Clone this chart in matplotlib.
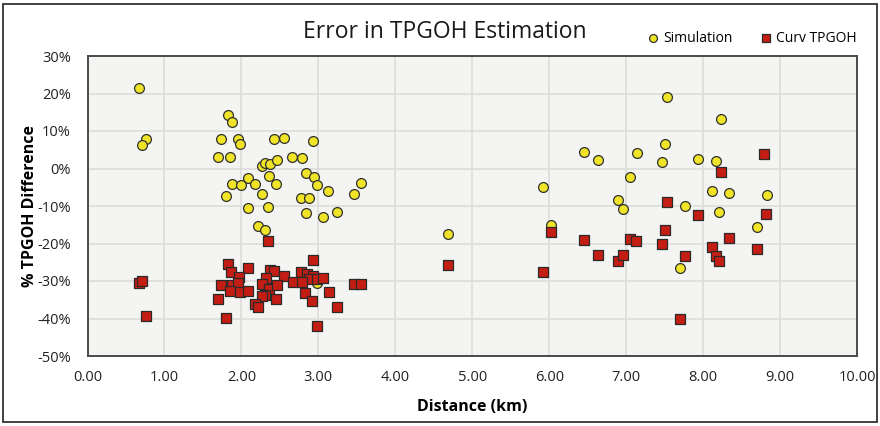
import matplotlib.pyplot as plt
from matplotlib.patches import Rectangle
from matplotlib.ticker import FuncFormatter

plt.rcParams['font.family'] = ['Open Sans', 'DejaVu Sans']

# Simulation points (distance km, % difference)
sim_x = [0.67, 0.76, 0.71, 1.83, 1.88, 1.73, 1.95, 1.98, 2.42, 2.55, 2.93,
         1.70, 1.85, 2.27, 2.31, 2.37, 2.46, 2.66, 2.79, 2.84, 2.94, 2.98,
         3.56, 3.46, 3.13, 2.08, 2.18, 2.36, 2.45, 1.88, 1.99, 1.80, 2.27,
         2.78, 2.88, 2.08, 2.35, 2.84, 3.06, 3.24, 2.21, 2.31, 2.98,
         4.68, 5.92, 6.02, 6.45, 6.64, 7.14, 7.46, 7.93, 8.17, 7.53, 8.23,
         7.51, 8.79, 7.05, 8.11, 8.34, 8.83, 6.89, 7.76, 6.96, 8.21, 8.70,
         7.70]
sim_y = [21.5, 8.0, 6.2, 14.3, 12.5, 7.9, 7.9, 6.5, 7.9, 8.1, 7.4,
         3.0, 3.2, 0.7, 1.5, 1.1, 2.4, 3.0, 2.8, -1.1, -2.3, -4.4,
         -3.8, -6.7, -5.9, -2.4, -4.0, -2.1, -4.2, -4.2, -4.5, -7.3, -6.8,
         -7.8, -7.8, -10.4, -10.3, -11.9, -12.8, -11.5, -15.3, -16.3, -30.6,
         -17.4, -4.8, -15.1, 4.3, 2.2, 4.1, 1.7, 2.6, 2.1, 19.1, 13.3,
         6.6, 3.9, -2.2, -6.1, -6.4, -7.0, -8.5, -10.1, -10.7, -11.7, -15.7,
         -26.6]

# Curv TPGOH points
curv_x = [0.67, 0.71, 0.76, 2.34, 2.93, 1.83, 2.08, 1.87, 1.97, 2.37, 2.43,
          2.32, 2.55, 2.78, 2.85, 2.93, 2.88, 2.98, 3.06, 1.73, 1.88, 1.95,
          1.85, 1.98, 2.08, 2.27, 2.36, 2.46, 2.67, 2.79, 2.31, 2.27, 2.83,
          3.14, 3.46, 3.56, 1.70, 2.18, 2.21, 2.45, 2.92, 3.24, 1.80, 2.98,
          4.68, 5.92, 6.02, 6.45, 6.63, 6.89, 6.96, 7.05, 7.13, 7.46, 7.51,
          7.53, 7.76, 7.93, 8.11, 8.17, 8.21, 8.23, 8.34, 8.70, 8.79, 8.82,
          7.70]
curv_y = [-30.4, -29.9, -39.3, -19.2, -24.3, -25.5, -26.5, -27.5, -28.8, -27.0, -27.2,
          -29.2, -28.7, -27.6, -28.1, -28.7, -29.5, -29.4, -29.3, -31.1, -31.1, -30.4,
          -32.6, -33.0, -32.6, -30.9, -32.0, -31.0, -30.2, -30.3, -33.7, -34.0, -33.3,
          -32.9, -30.7, -30.7, -34.7, -36.1, -36.9, -34.9, -35.4, -36.8, -39.8, -41.9,
          -25.7, -27.5, -17.0, -19.1, -23.1, -24.6, -23.1, -18.7, -19.2, -20.1, -16.5,
          -9.0, -23.3, -12.5, -20.8, -23.3, -24.7, -1.0, -18.4, -21.5, 3.9, -12.1,
          -40.0]

fig = plt.figure(figsize=(8.8, 4.26), dpi=100)
ax = fig.add_axes([87.5 / 880, 1 - 356 / 426, (857 - 87.5) / 880, 300 / 426])
ax.set_facecolor('#f4f4f3')

ax.scatter(sim_x, sim_y, s=50, marker='o', facecolor='#f0e428',
           edgecolor='#303030', linewidth=0.9, zorder=3, label='Simulation')
ax.scatter(curv_x, curv_y, s=42, marker='s', facecolor='#c41e14',
           edgecolor='#2a2a2a', linewidth=0.9, zorder=4, label='Curv TPGOH')

ax.set_xlim(0, 10)
ax.set_ylim(-50, 30)
ax.set_xticks(range(0, 11))
ax.set_yticks(range(-50, 31, 10))
ax.xaxis.set_major_formatter(FuncFormatter(lambda v, p: f"{v:.2f}"))
ax.yaxis.set_major_formatter(FuncFormatter(lambda v, p: f"{v:.0f}%"))
ax.tick_params(length=0, labelsize=10.5, colors='#222222')
ax.tick_params(axis='y', pad=12)
ax.tick_params(axis='x', pad=10)
ax.grid(True, color='#dcdcdc', linewidth=1.2, zorder=0)
ax.set_axisbelow(True)
for s in ax.spines.values():
    s.set_color('#4a4a4a')
    s.set_linewidth(1.4)

ax.set_xlabel('Distance (km)', fontsize=11.5, fontweight='bold', labelpad=10)
ax.set_ylabel('% TPGOH Difference', fontsize=11.5, fontweight='bold', labelpad=-1)

fig.text(0.505, 1 - 32 / 426, 'Error in TPGOH Estimation', ha='center',
         va='center', fontsize=16.5, color='#1a1a1a')

leg = fig.legend(loc='center', bbox_to_anchor=(752 / 880, 1 - 38 / 426), ncol=2,
                 frameon=False, fontsize=10, handlelength=0.8, handletextpad=0.3,
                 columnspacing=2.0, markerscale=0.8)

fig.patches.append(Rectangle((3 / 880, 4 / 426), 874 / 880, 418 / 426,
                             transform=fig.transFigure, fill=False,
                             edgecolor='#222222', linewidth=1.2))

fig.savefig('out.png', dpi=100)
